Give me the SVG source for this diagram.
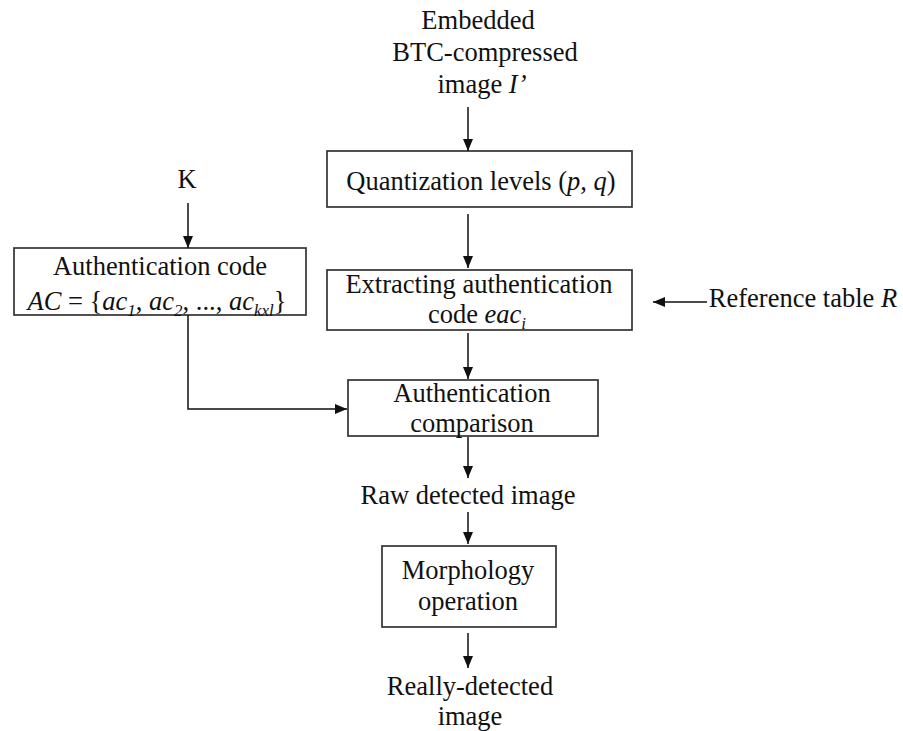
<svg xmlns="http://www.w3.org/2000/svg" width="903" height="731" viewBox="0 0 903 731">
<defs>
<marker id="ah" markerUnits="userSpaceOnUse" markerWidth="12" markerHeight="10" refX="12" refY="5" orient="auto">
<path d="M0,0 L12,5 L0,10 z" fill="#111"/>
</marker>
<style>
text{font-family:'Liberation Serif','DejaVu Serif',serif;font-size:26.5px;fill:#111;text-anchor:middle}
.box{fill:#fff;stroke:#333;stroke-width:1.7}
.c{fill:none;stroke:#111;stroke-width:1.5;marker-end:url(#ah)}
.i{font-style:italic}
.s{font-size:17px}
</style>
</defs>
<rect width="903" height="731" fill="#fff"/>
<g id="input" font-family="Liberation Serif, DejaVu Serif, serif">
<text x="478" y="29">Embedded</text>
<text x="485" y="61">BTC-compressed</text>
<text x="482" y="93">image  <tspan class="i">I’</tspan></text>
</g>
<g id="quant">
<rect class="box" x="327" y="151" width="305" height="56"/>
<text x="481" y="190">Quantization levels (<tspan class="i">p</tspan>, <tspan class="i">q</tspan>)</text>
</g>
<g id="extract">
<rect class="box" x="327" y="270" width="305" height="60"/>
<text x="479" y="293">Extracting authentication</text>
<text x="477" y="323">code <tspan class="i">eac</tspan><tspan class="i s" dy="6">i</tspan></text>
</g>
<g id="k">
<text x="187" y="188">K</text>
</g>
<g id="authcode">
<rect class="box" x="14" y="248" width="292" height="67"/>
<text x="160" y="275">Authentication code</text>
<text x="157" y="310"><tspan class="i">AC</tspan> = {<tspan class="i">ac</tspan><tspan class="i s" dy="6">1</tspan><tspan dy="-6">, </tspan><tspan class="i">ac</tspan><tspan class="i s" dy="6">2</tspan><tspan dy="-6">, ..., </tspan><tspan class="i">ac</tspan><tspan class="i s" dy="6">kxl</tspan><tspan dy="-6">}</tspan></text>
</g>
<g id="reftable">
<text x="803" y="307">Reference table <tspan class="i">R</tspan></text>
</g>
<g id="compare">
<rect class="box" x="348" y="380" width="250" height="56"/>
<text x="472" y="402">Authentication</text>
<text x="472" y="432">comparison</text>
</g>
<g id="raw">
<text x="468" y="504">Raw detected image</text>
</g>
<g id="morph">
<rect class="box" x="382" y="546" width="174" height="81"/>
<text x="468" y="579">Morphology</text>
<text x="468" y="610">operation</text>
</g>
<g id="really">
<text x="470" y="695">Really-detected</text>
<text x="470" y="725">image</text>
</g>
<g id="connectors">
<line class="c" x1="468" y1="107" x2="468" y2="151"/>
<line class="c" x1="468" y1="214" x2="468" y2="268"/>
<line class="c" x1="468" y1="333" x2="468" y2="379"/>
<line class="c" x1="188" y1="203" x2="188" y2="248"/>
<polyline class="c" points="188,315 188,409 347,409"/>
<line class="c" x1="707" y1="302" x2="653" y2="302"/>
<line class="c" x1="468" y1="437" x2="468" y2="478"/>
<line class="c" x1="468" y1="512" x2="468" y2="544"/>
<line class="c" x1="468" y1="633" x2="468" y2="668"/>
</g>
</svg>
